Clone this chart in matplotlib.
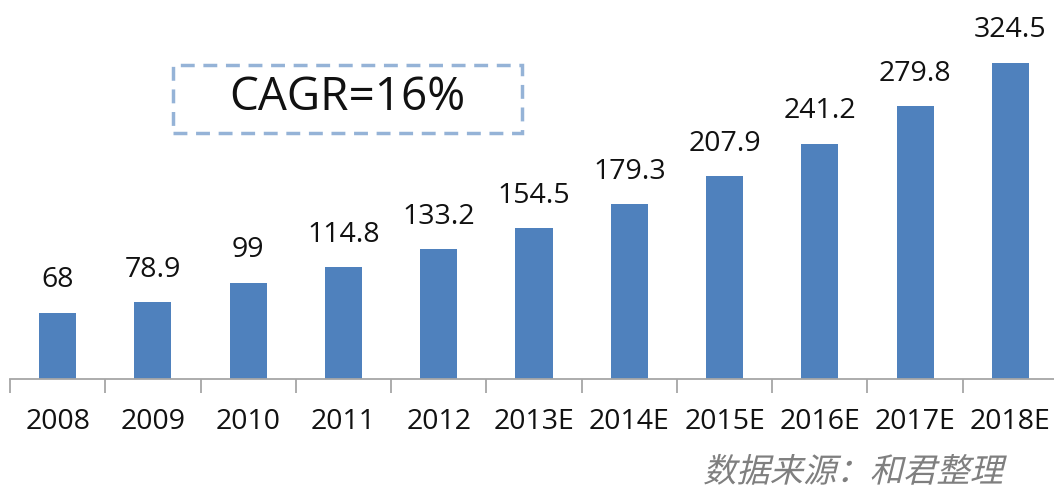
import matplotlib.pyplot as plt
import numpy as np
from matplotlib.patches import Rectangle, PathPatch
from matplotlib.textpath import TextPath
from matplotlib.font_manager import FontProperties
from matplotlib.transforms import Affine2D

plt.rcParams['font.family'] = ['Open Sans', 'Noto Sans CJK SC', 'DejaVu Sans']

# data
years = ['2008', '2009', '2010', '2011', '2012', '2013E', '2014E',
         '2015E', '2016E', '2017E', '2018E']
values = [68, 78.9, 99, 114.8, 133.2, 154.5, 179.3, 207.9, 241.2, 279.8, 324.5]
value_labels = ['68', '78.9', '99', '114.8', '133.2', '154.5', '179.3',
                '207.9', '241.2', '279.8', '324.5']
note = 'CAGR=16%'
source = '数据来源：和君整理'

fig = plt.figure(figsize=(10.54, 4.86), dpi=100)
ax = fig.add_axes([10 / 1054, 107 / 486, 1048 / 1054, 379 / 486])

x = np.arange(len(years))
ax.bar(x, values, width=0.39, color='#4F81BD', zorder=2)
for xi, v, lab in zip(x, values, value_labels):
    ax.text(xi, v + 19, lab, ha='center', va='bottom', fontsize=20.5, color='#111111')

ax.set_xlim(-0.5, len(years) - 0.5)
ax.set_ylim(0, 389)

# axis look
for s in ['top', 'right', 'left']:
    ax.spines[s].set_visible(False)
ax.spines['bottom'].set_color('#a6a6a6')
ax.spines['bottom'].set_linewidth(1.3)
ax.set_yticks([])
ax.set_xticks(x)
ax.set_xticklabels(years, fontsize=20.5, color='#111111')
ax.tick_params(axis='x', which='major', length=0, pad=21)
ax.set_xticks(np.arange(-0.5, len(years), 1.0), minor=True)
ax.tick_params(axis='x', which='minor', length=10, width=1.3, color='#a6a6a6')

# CAGR box
box = Rectangle((173 / 1054, 1 - 133 / 486), 349 / 1054, 68 / 486,
                transform=fig.transFigure, fill=False, edgecolor='#95B3D7',
                linewidth=2.5, linestyle=(0, (4, 2.5)))
fig.patches.append(box)
fig.text(347 / 1054, 1 - 98 / 486, note, ha='center', va='center',
         fontsize=33, color='#111111')

# source, slanted
tp = TextPath((0, 0), source, size=24, prop=FontProperties(family='Noto Sans CJK SC'))
tr = (Affine2D().skew_deg(14, 0).scale(1 / 72)
      .translate(703 / 100, (486 - 482) / 100) + fig.dpi_scale_trans)
fig.patches.append(PathPatch(tp, transform=tr, facecolor='#7f7f7f',
                             edgecolor='none'))

fig.savefig('out.png', dpi=100)
